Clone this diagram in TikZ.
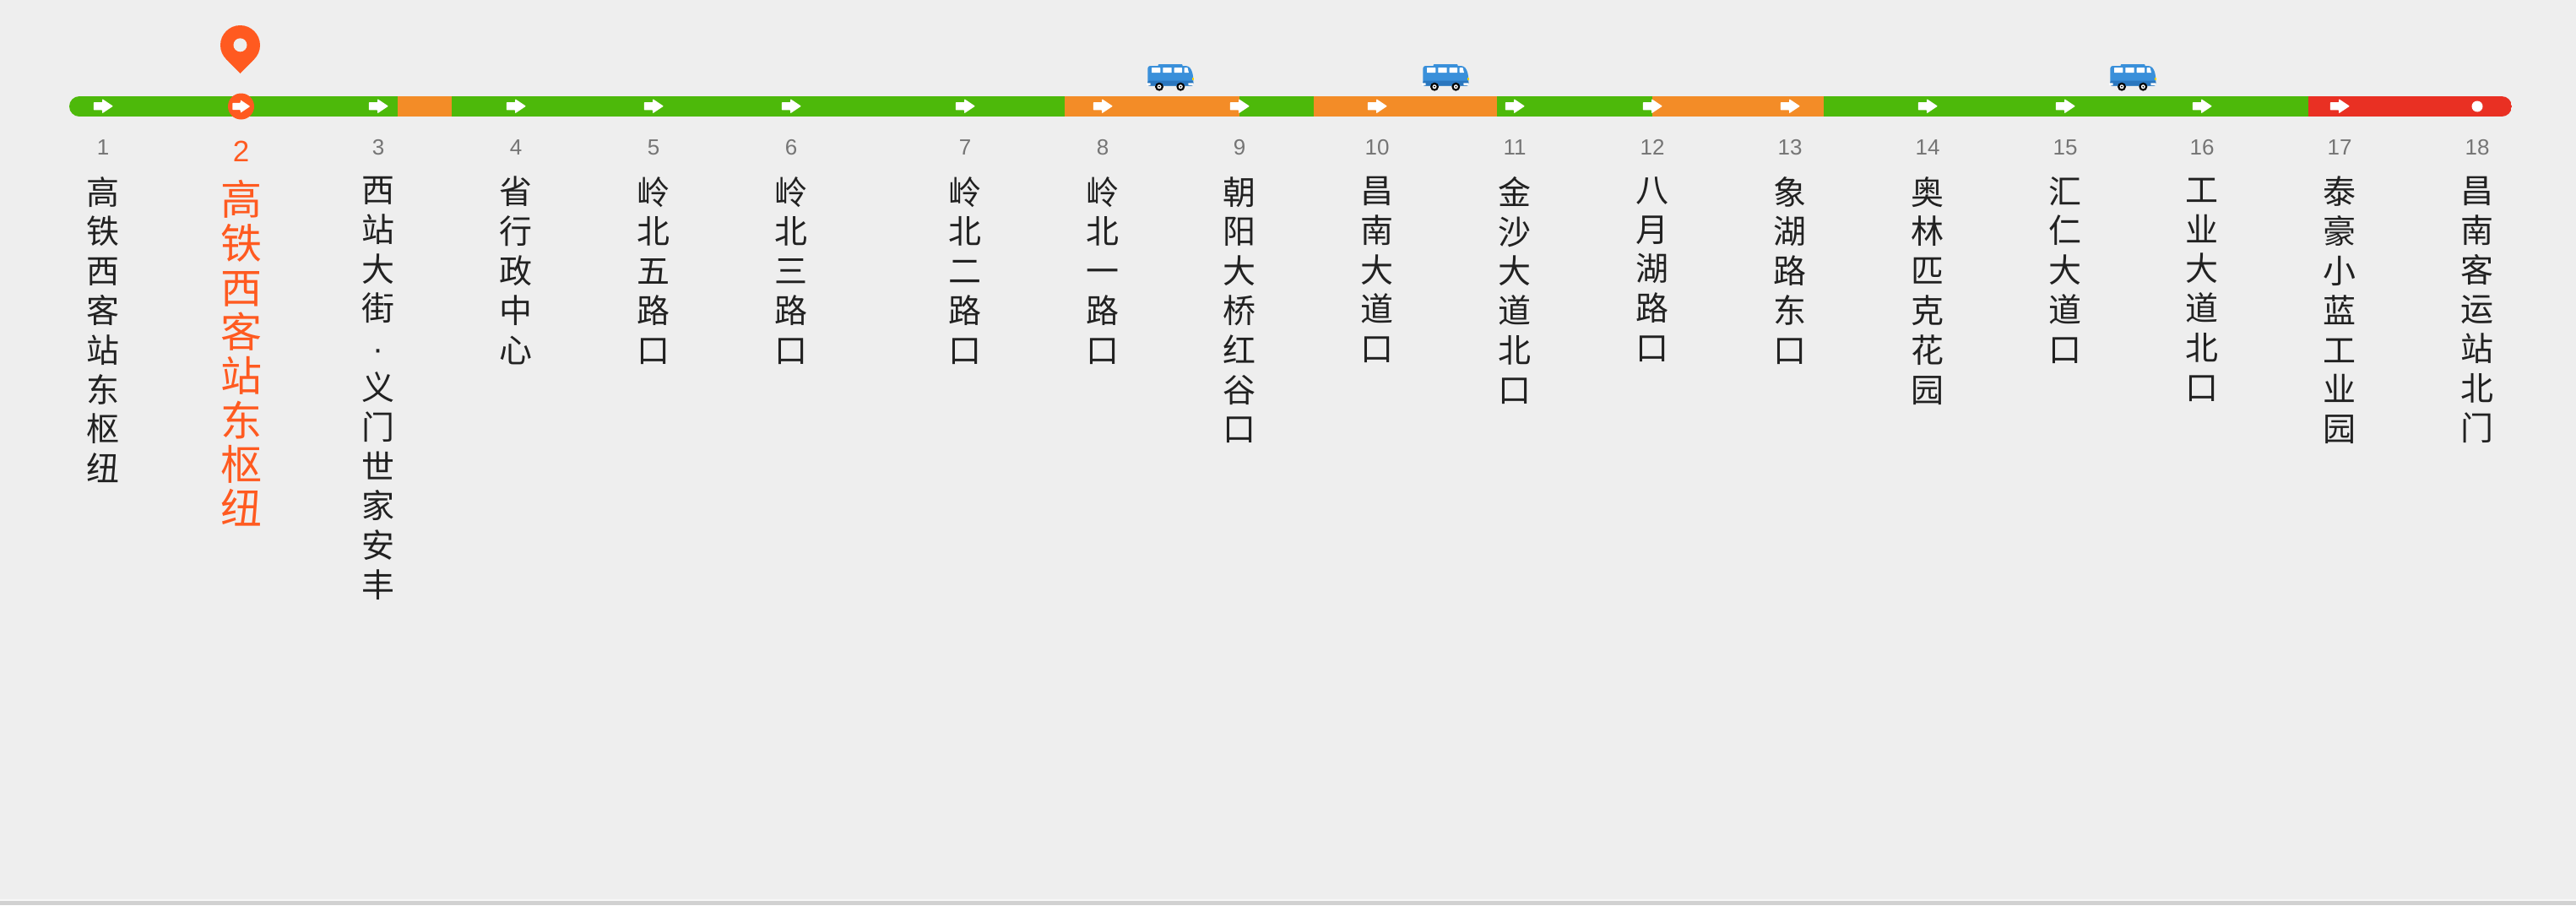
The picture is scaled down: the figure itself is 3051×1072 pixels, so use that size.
\documentclass[tikz,border=0pt]{standalone}
\usepackage{fontspec}
\setmainfont{Liberation Sans}
\newfontfamily\cjkfont{Noto Sans CJK SC}
\definecolor{pagebg}{HTML}{EEEEEE}
\definecolor{linegreen}{HTML}{4DB90A}
\definecolor{lineorange}{HTML}{F38C27}
\definecolor{linered}{HTML}{E93023}
\definecolor{hilite}{HTML}{FF5A20}
\definecolor{numgrey}{HTML}{757575}
\definecolor{namedark}{HTML}{212121}
\definecolor{busblue}{HTML}{3A90DA}
\definecolor{busdark}{HTML}{2A76BE}
\newcommand\vstack[1]{\expandafter\vstacki#1\relax}
\def\vstacki#1#2\relax{\rule{0pt}{\vstackh}#1\ifx\relax#2\relax\else\\\vstacki#2\relax\fi}
\def\vstackh{30pt}
\def\smalldot{{\rmfamily ·}}
\tikzset{
  numlabel/.style={anchor=base,inner sep=0pt,text=numgrey,font=\fontsize{26}{26}\selectfont},
  numhi/.style={anchor=base,inner sep=0pt,text=hilite,font=\fontsize{35}{35}\selectfont},
  namelabel/.style={anchor=north,inner sep=0pt,align=center,text=namedark,font=\cjkfont\fontsize{39}{46.8}\selectfont},
  namehi/.style={anchor=north,inner sep=0pt,align=center,text=hilite,font=\cjkfont\fontsize{49}{52.3}\selectfont},
  stoparrow/.pic={
    \fill[white,rounded corners=.7pt] (-11.2,-4.6) -- (-0.8,-4.6) -- (-0.8,-8.5) -- (12,0) -- (-0.8,8.5) -- (-0.8,4.6) -- (-11.2,4.6) -- cycle;
  },
  busicon/.pic={
    % roof
    \fill[busblue,rounded corners=1pt] (-14.5,16) rectangle (14.5,21);
    % body
    \fill[busblue,rounded corners=3pt] (-26.7,41.5) -- (-26.7,18) -- (21.5,18) -- (25.5,23) -- (27.3,31) -- (27.3,41.5) -- cycle;
    % lower band
    \fill[busdark,rounded corners=2pt] (-26.7,41.7) -- (-26.7,35.5) -- (27.3,35.5) -- (27.3,41.7) -- cycle;
    % windows
    \fill[white,rounded corners=.6pt] (-22,20) rectangle (-11.7,26.2);
    \fill[white,rounded corners=.6pt] (-8.7,20) rectangle (1.7,26.2);
    \fill[white,rounded corners=.6pt] (4.7,20) rectangle (14,26.2);
    \fill[white,rounded corners=.6pt] (16.7,20) -- (20.5,20) -- (22,26.2) -- (16.7,26.2) -- cycle;
    % bumpers
    \fill[white,rounded corners=.6pt] (-27.8,38.3) rectangle (-23.3,40.9);
    \fill[white,rounded corners=.6pt] (21.3,38.3) rectangle (27.5,40.9);
    % headlight
    \fill[yellow!70!orange] (26.4,31.5) rectangle (27.6,34.5);
    % wheels
    \foreach \wx in {-13,12.3}{
      \fill[black] (\wx,42.7) circle (5);
      \fill[white] (\wx,42.7) circle (2.5);
      \fill[black] (\wx,42.7) circle (1);
    }
  }
}
\begin{document}
\begin{tikzpicture}[x=1pt,y=-1pt]
\useasboundingbox (0,0) rectangle (3051,1072);
\fill[pagebg] (0,0) rectangle (3051,1072);
\fill[black!18] (0,1067) rectangle (3051,1072);
\fill[white!50!pagebg] (0,1065) rectangle (3051,1067);

% line segments
\begin{scope}
  \clip[rounded corners=12pt] (82,114) rectangle (2975,138);
  \foreach \a/\b/\c in {82/471/linegreen,471/535/lineorange,535/1261/linegreen,
      1261/1468/lineorange,1468/1556/linegreen,1556/1773/lineorange,1773/1957/linegreen,
      1957/2160/lineorange,2160/2734/linegreen,2734/2975/linered}
    \fill[\c] (\a,114) rectangle (\b,138);
\end{scope}

% direction arrows
\foreach \x in {122,448,611,774,937,1143,1306,1468,1631,1794,1957,2120,2283,2446,2608,2771}
  \pic at (\x,125.7) {stoparrow};

% current stop marker
\node[circle,fill=hilite,minimum size=31pt,inner sep=0pt] (current) at (285.5,126) {};
\pic[scale=.9] at (current.center) {stoparrow};

% terminal dot
\node[circle,fill=white,minimum size=13pt,inner sep=0pt] (terminal) at (2934,126) {};

% location pin
\fill[hilite] (284.5,53.5) circle (23.5);
\fill[hilite] (267.9,70.1) -- (284.5,87) -- (301.1,70.1) -- (284.5,53.5) -- cycle;
\fill[pagebg] (284.5,53.3) circle (8);

% buses
\foreach \x in {1386,1712,2526}
  \pic at (\x,60) {busicon};

% stop numbers and names
\foreach \n/\x/\t in {1/122/高铁西客站东枢纽,3/448/西站大街\smalldot 义门世家安丰,4/611/省行政中心,5/774/岭北五路口,6/937/岭北三路口,7/1143/岭北二路口,8/1306/岭北一路口,9/1468/朝阳大桥红谷口,10/1631/昌南大道口,11/1794/金沙大道北口,12/1957/八月湖路口,13/2120/象湖路东口,14/2283/奥林匹克花园,15/2446/汇仁大道口,16/2608/工业大道北口,17/2771/泰豪小蓝工业园,18/2934/昌南客运站北门}{
  \node[numlabel] (num\n) at (\x,183) {\n};
  \node[namelabel] (name\n) at (\x,209) {\vstack{\t}};
}
\node[numhi] (num2) at (285.7,191) {2};
\def\hiname{高铁西客站东枢纽}
\def\vstackh{38pt}
\node[namehi] (name2) at (286,213) {\vstack{\hiname}};
\end{tikzpicture}
\end{document}
